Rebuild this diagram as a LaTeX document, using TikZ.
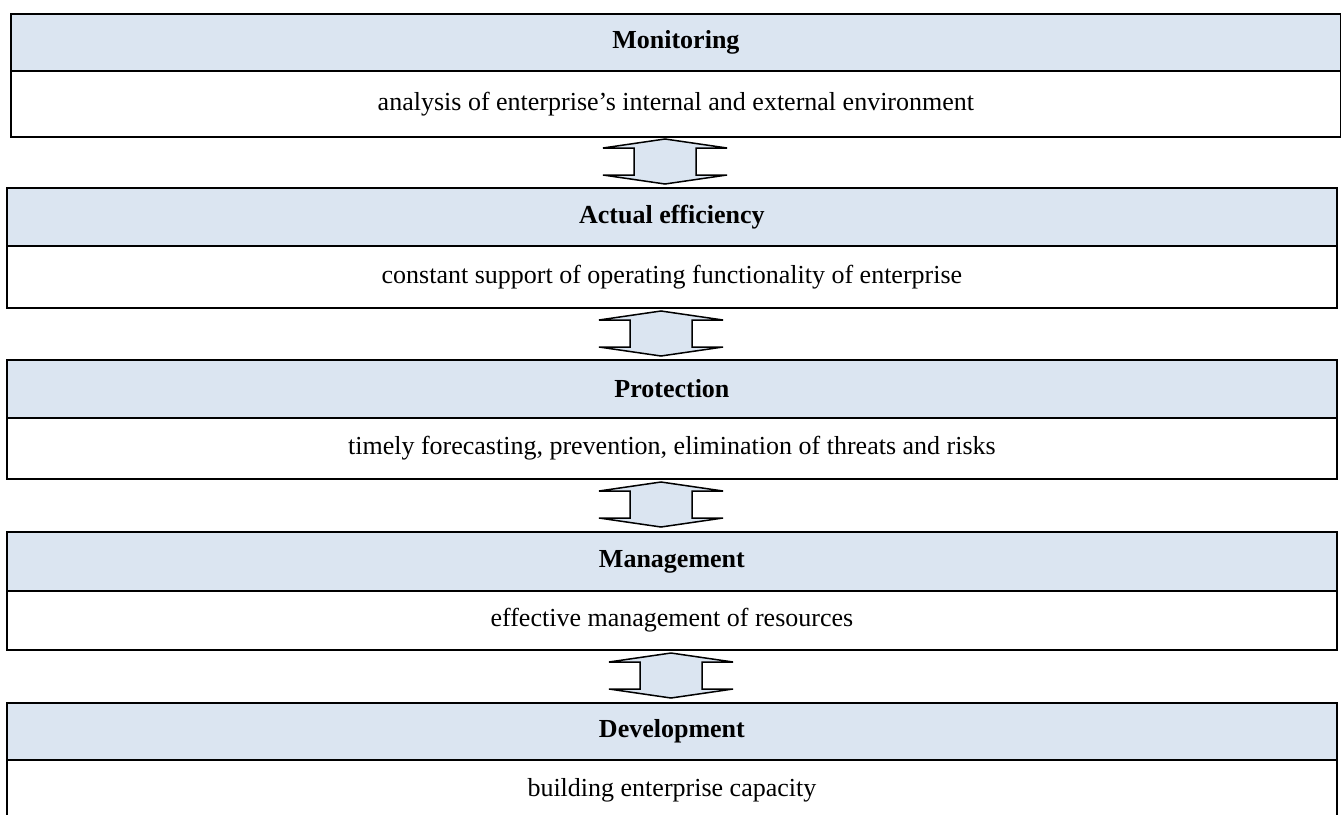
\documentclass[tikz,border=0pt]{standalone}
\usepackage{fontspec}
\setmainfont{Liberation Serif}
\definecolor{hdrblue}{HTML}{DBE5F1}
\tikzset{
  hdr/.style={draw=black, line width=1.8pt, fill=hdrblue, rectangle, anchor=north west,
    minimum width=1330pt, inner sep=0pt, font=\fontsize{26}{30}\selectfont\bfseries},
  bodybox/.style={draw=black, line width=1.8pt, fill=white, rectangle, anchor=north west,
    minimum width=1330pt, inner sep=0pt, font=\fontsize{26}{30}\selectfont},
  blockarrow/.style={draw=black, line width=1.5pt, fill=hdrblue, line join=miter},
  dblarrow/.pic={\draw[blockarrow] (0,-22.5) -- (62,-13.5) -- (31,-13.5) -- (31,13.5) -- (62,13.5) -- (0,22.5) -- (-62,13.5) -- (-31,13.5) -- (-31,-13.5) -- (-62,-13.5) -- cycle;}
}
\begin{document}
\begin{tikzpicture}[x=1pt,y=-1pt]
\useasboundingbox (0,0) rectangle (1341,814);
% box 1
\node[bodybox, minimum height=66pt] (b1) at (10,70) {analysis of enterprise’s internal and external environment};
\node[hdr, minimum height=57pt] (h1) at (10,13) {Monitoring};
% box 2
\node[bodybox, minimum height=62pt] (b2) at (6,245) {constant support of operating functionality of enterprise};
\node[hdr, minimum height=58pt] (h2) at (6,187) {Actual efficiency};
% box 3
\node[bodybox, minimum height=61pt] (b3) at (6,417) {timely forecasting, prevention, elimination of threats and risks};
\node[hdr, minimum height=58pt] (h3) at (6,359) {Protection};
% box 4
\node[bodybox, minimum height=59pt] (b4) at (6,590) {effective management of resources};
\node[hdr, minimum height=59pt] (h4) at (6,531) {Management};
% box 5
\node[bodybox, minimum height=60pt] (b5) at (6,759) {building enterprise capacity};
\node[hdr, minimum height=57pt] (h5) at (6,702) {Development};
% arrows
\coordinate (a1) at (665,161.5);
\coordinate (a2) at (661,333.5);
\coordinate (a3) at (661,504.5);
\coordinate (a4) at (671,675.5);
\pic at (a1) {dblarrow};
\pic at (a2) {dblarrow};
\pic at (a3) {dblarrow};
\pic at (a4) {dblarrow};
\end{tikzpicture}
\end{document}
